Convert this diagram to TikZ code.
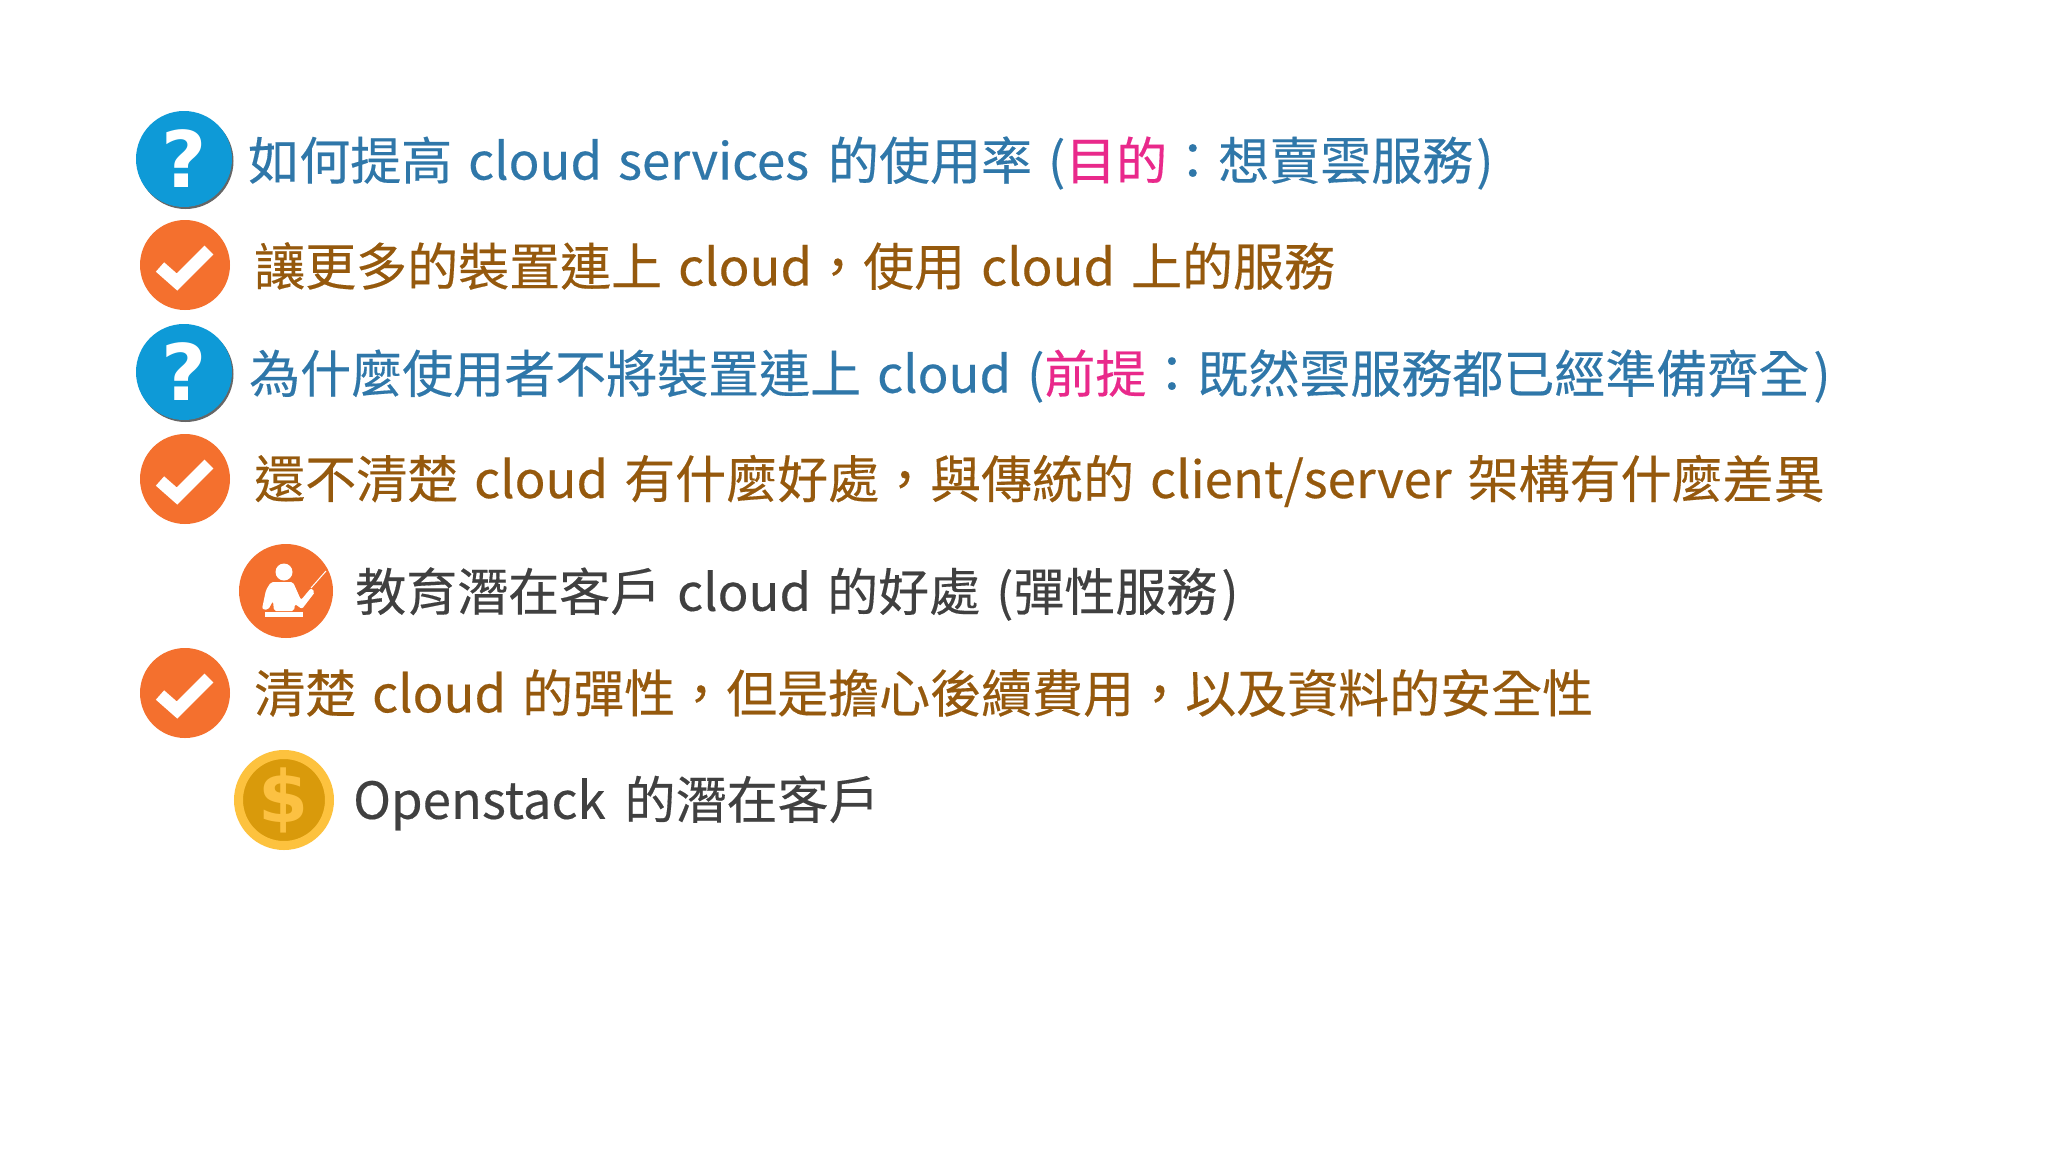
\documentclass[tikz,border=0pt]{standalone}
\usepackage{fontspec}
\setmainfont{Noto Sans CJK TC}[WordSpace=1.4,FakeBold=0.3]
\newfontfamily\iconfont{DejaVu Sans Bold}
\definecolor{askblue}{HTML}{0E9AD7}
\definecolor{okorange}{HTML}{F4702E}
\definecolor{asktext}{HTML}{2F77A9}
\definecolor{oktext}{HTML}{95590D}
\definecolor{pinktext}{HTML}{E9298B}
\definecolor{graytext}{HTML}{404040}
\definecolor{coinrim}{HTML}{FDC23E}
\definecolor{coinface}{HTML}{D99A0B}
\definecolor{coinsign}{HTML}{FCC142}
\tikzset{
  line/.style={anchor=west,inner sep=0pt,font=\fontsize{51}{60}\selectfont},
  askicon/.style={circle,fill=askblue,minimum size=96pt,inner sep=0pt,text=white,font=\fontsize{78}{78}\iconfont},
  okicon/.style={circle,fill=okorange,minimum size=90pt,inner sep=0pt},
  teachicon/.style={circle,fill=okorange,minimum size=94pt,inner sep=0pt},
  coinicon/.style={circle,fill=coinface,draw=coinrim,line width=9pt,minimum size=91pt,inner sep=0pt,text=coinsign,font=\fontsize{72}{72}\iconfont},
  tick/.style={draw=white,line width=12.5pt}
}
\begin{document}
\begin{tikzpicture}[x=1pt,y=-1pt]
\useasboundingbox (0,0) rectangle (2048,1152);
\fill[white] (0,0) rectangle (2048,1152);
% question marks
\fill[black!60] (185.5,161) circle[radius=48];
\node[askicon] (ask1) at (184,159) {?};
\fill[black!60] (185.5,374) circle[radius=48];
\node[askicon] (ask2) at (184,372) {?};
% ticks
\node[okicon] (ok1) at (185,265) {};
\draw[tick] (160,267)--(177,282)--(209,250);
\node[okicon] (ok2) at (185,479) {};
\draw[tick] (160,481)--(177,496)--(209,464);
\node[okicon] (ok3) at (185,693) {};
\draw[tick] (160,695)--(177,710)--(209,678);
% teacher
\node[teachicon] (teach) at (286,591) {};
\fill[white] (284,572) circle[radius=8.5];
\fill[white,rounded corners=2pt] (271,582)--(293,582)--(301,600)--(311,588)--(315,592)--(302,609)--(295,604)--(294,611)--(274,611)--(273,601)--(268,610)--(262,609)--(266,590)--cycle;
\fill[white] (265,612) rectangle (303,617);
\draw[white,line width=1pt] (311,588)--(326,571);
% coin
\node[coinicon] (coin) at (284,800) {\$};
% lines of text
\node[line,text=asktext] (l1) at (248,163) {如何提高 cloud services\hspace{3pt} 的使用率 (\textcolor{pinktext}{目的}：想賣雲服務\hspace{3pt})};
\node[line,text=oktext] (l2) at (254,266) {讓更多的裝置連上 cloud，使用 cloud 上的服務};
\node[line,text=asktext] (l3) at (249,376) {為什麼使用者不將裝置連上 cloud (\textcolor{pinktext}{前提}：既然雲服務都已經準備齊全\hspace{4pt})};
\node[line,text=oktext] (l4) at (254,481) {還不清楚 cloud 有什麼好處，與傳統的 client/server 架構有什麼差異};
\node[line,text=graytext] (l5) at (355,594) {教育潛在客戶 cloud 的好處 (彈性服務\hspace{4pt})};
\node[line,text=oktext] (l6) at (254,693) {清楚 cloud 的彈性，但是擔心後續費用，以及資料的安全性};
\node[line,text=graytext] (l7) at (353,803) {Openstack\hspace{3pt} 的潛在客戶};
\end{tikzpicture}
\end{document}
